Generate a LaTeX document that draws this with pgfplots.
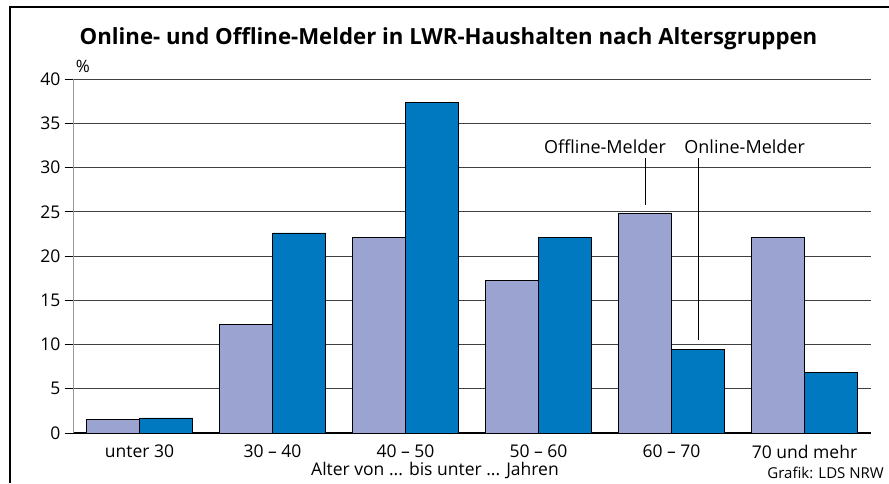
\documentclass[border=0pt]{standalone}
\usepackage{fontspec}
\setmainfont{Open Sans}
\usepackage{pgfplots}
\pgfplotsset{compat=1.18}
\definecolor{offc}{HTML}{9BA3D1}
\definecolor{onc}{HTML}{0079C1}
\begin{document}
\begin{tikzpicture}
\useasboundingbox (0,0) rectangle (889pt,483pt);
\fill[white] (0,0) rectangle (889pt,483pt);
\draw[line width=2.2pt] (10pt,0) -- (10pt,476pt) -- (889pt,476pt);
\node[font=\fontsize{22.2}{25}\selectfont\bfseries] at (448.5pt,444pt) {Online- und Offline-Melder in LWR-Haushalten nach Altersgruppen};
\begin{axis}[
  at={(73pt,50pt)}, anchor=south west,
  scale only axis, width=798pt, height=354pt,
  xmin=-0.5, xmax=5.5, ymin=0, ymax=40,
  ybar=0pt, bar width=53pt,
  axis x line*=bottom, axis y line*=left,
  x axis line style={black, line width=1.2pt, -},
  y axis line style={gray!80, line width=1pt, -},
  xtick={0,1,2,3,4,5},
  xticklabels={unter 30, 30 -- 40, 40 -- 50, 50 -- 60, 60 -- 70, 70 und mehr},
  xtick style={draw=none},
  ytick={0,5,...,40},
  ytick style={black, line width=0.8pt},
  major tick length=8pt, tick align=outside,
  ymajorgrids, grid style={black!75, line width=0.8pt},
  /pgf/number format/assume math mode=true,
  yticklabel style={font=\fontsize{17.5}{19}\selectfont, xshift=-1pt},
  xticklabel style={font=\fontsize{17.5}{19}\selectfont, inner sep=1pt, yshift=-3pt},
  clip=false,
]
\addplot[fill=offc, draw=black, line width=0.7pt] coordinates {(0,1.55) (1,12.3) (2,22.1) (3,17.2) (4,24.8) (5,22.1)};
\addplot[fill=onc, draw=black, line width=0.7pt] coordinates {(0,1.7) (1,22.6) (2,37.4) (3,22.1) (4,9.4) (5,6.8)};
\draw[black, line width=0.8pt] (axis cs:3.8,31.1) -- (axis cs:3.8,25.8);
\draw[black, line width=0.8pt] (axis cs:4.2,31.1) -- (axis cs:4.2,10.5);
\node[font=\fontsize{18}{20}\selectfont] at (axis cs:3.5,32.4) {Offline-Melder};
\node[font=\fontsize{18}{20}\selectfont] at (axis cs:4.55,32.4) {Online-Melder};
\node[font=\fontsize{17}{19}\selectfont, anchor=south west, inner sep=0pt] at (axis cs:-0.48,40.7) {\%};
\end{axis}
\node[font=\fontsize{17.5}{19}\selectfont, inner sep=0pt] at (435pt,12.5pt) {Alter von ... bis unter ... Jahren};
\node[font=\fontsize{15}{17}\selectfont, anchor=east, inner sep=0pt] at (884pt,10pt) {Grafik: LDS NRW};
\end{tikzpicture}
\end{document}
